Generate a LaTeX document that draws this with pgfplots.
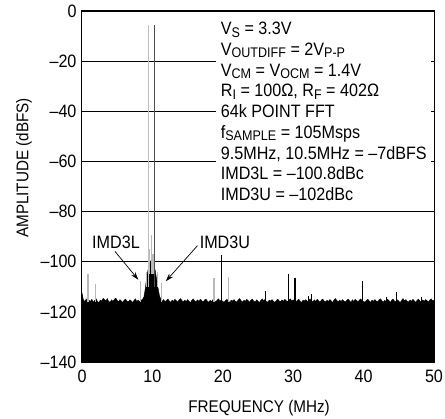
\documentclass[border=0pt]{standalone}
\usepackage{fontspec}
\setmainfont{Liberation Sans}[FakeStretch=0.9]
\usepackage{pgfplots}
\usepackage{pgfplotstable}
\pgfplotsset{compat=1.18}
\usetikzlibrary{arrows.meta}
\newcommand{\sub}[1]{\raisebox{-2.4bp}{\fontsize{14}{14}\selectfont #1}}
\pgfplotstableread{
x y
0.0 -145
0.0 -112.5
0.2 -115.2
0.4 -115.9
0.6 -114.9
0.8 -116.1
1.0 -115.4
1.2 -115.8
1.4 -115.0
1.6 -116.2
1.8 -115.5
2.0 -114.8
2.2 -115.9
2.4 -116.3
2.6 -115.3
2.8 -115.7
3.0 -114.6
3.2 -115.1
3.4 -115.6
3.6 -114.7
3.8 -115.9
4.0 -116.1
4.2 -115.2
4.4 -115.8
4.6 -115.0
4.8 -114.5
5.0 -115.4
5.2 -116.0
5.4 -115.1
5.6 -115.7
5.8 -116.2
6.0 -115.3
6.2 -114.9
6.4 -115.8
6.6 -116.0
6.8 -115.2
7.0 -115.6
7.2 -116.3
7.4 -115.4
7.6 -114.8
7.8 -115.9
8.0 -115.3
8.2 -116.0
8.4 -115.4
8.6 -115.0
8.8 -114.0
9.0 -110.5
9.2 -106.0
9.4 -103.0
9.6 -101.5
9.8 -99.5
10.0 -100.0
10.2 -101.5
10.4 -103.5
10.6 -107.0
10.8 -110.5
11.0 -113.5
11.2 -115.0
11.4 -115.8
11.6 -115.1
11.8 -116.0
12.0 -115.4
12.2 -114.9
12.4 -115.7
12.6 -116.2
12.8 -115.3
13.0 -115.8
13.2 -115.0
13.4 -115.6
13.6 -116.1
13.8 -115.2
14.0 -114.7
14.2 -115.5
14.4 -116.0
14.6 -115.3
14.8 -115.9
15.0 -115.1
15.2 -115.7
15.4 -116.3
15.6 -115.4
15.8 -114.8
16.0 -115.6
16.2 -116.0
16.4 -115.2
16.6 -115.8
16.8 -115.0
17.0 -115.5
17.2 -116.1
17.4 -115.3
17.6 -114.9
17.8 -115.7
18.0 -116.2
18.2 -115.4
18.4 -115.9
18.6 -115.1
18.8 -115.6
19.0 -116.0
19.2 -115.3
19.4 -114.8
19.6 -115.7
19.8 -115.2
20.0 -115.9
20.2 -116.1
20.4 -115.4
20.6 -115.0
20.8 -115.8
21.0 -116.2
21.2 -115.3
21.4 -115.7
21.6 -115.1
21.8 -115.9
22.0 -116.0
22.2 -115.2
22.4 -114.7
22.6 -115.6
22.8 -116.1
23.0 -115.4
23.2 -115.8
23.4 -115.0
23.6 -115.5
23.8 -116.2
24.0 -115.3
24.2 -114.9
24.4 -115.8
24.6 -116.0
24.8 -115.2
25.0 -115.7
25.2 -116.3
25.4 -115.4
25.6 -114.8
25.8 -115.6
26.0 -115.0
26.2 -115.9
26.4 -116.1
26.6 -115.3
26.8 -115.7
27.0 -115.1
27.2 -115.8
27.4 -116.2
27.6 -115.5
27.8 -114.9
28.0 -115.6
28.2 -116.0
28.4 -115.2
28.6 -115.8
28.8 -115.0
29.0 -115.5
29.2 -116.1
29.4 -115.3
29.6 -114.8
29.8 -115.7
30.0 -115.2
30.2 -115.9
30.4 -116.0
30.6 -115.4
30.8 -115.0
31.0 -115.8
31.2 -116.2
31.4 -115.3
31.6 -115.7
31.8 -115.1
32.0 -115.9
32.2 -115.4
32.4 -114.8
32.6 -115.6
32.8 -116.1
33.0 -115.2
33.2 -115.8
33.4 -115.0
33.6 -115.5
33.8 -116.2
34.0 -115.3
34.2 -114.9
34.4 -115.7
34.6 -116.0
34.8 -115.4
35.0 -115.8
35.2 -115.1
35.4 -115.6
35.6 -116.3
35.8 -115.2
36.0 -114.7
36.2 -115.5
36.4 -116.0
36.6 -115.3
36.8 -115.9
37.0 -115.1
37.2 -115.7
37.4 -116.1
37.6 -115.4
37.8 -114.9
38.0 -115.6
38.2 -116.2
38.4 -115.2
38.6 -115.8
38.8 -115.0
39.0 -115.5
39.2 -116.0
39.4 -115.3
39.6 -114.8
39.8 -115.7
40.0 -115.9
40.2 -116.1
40.4 -115.4
40.6 -115.0
40.8 -115.6
41.0 -116.2
41.2 -115.3
41.4 -115.8
41.6 -115.1
41.8 -115.7
42.0 -116.0
42.2 -115.2
42.4 -114.8
42.6 -115.6
42.8 -116.1
43.0 -115.4
43.2 -115.9
43.4 -115.0
43.6 -115.5
43.8 -116.2
44.0 -115.3
44.2 -114.9
44.4 -115.8
44.6 -116.0
44.8 -115.2
45.0 -115.7
45.2 -116.3
45.4 -115.4
45.6 -114.7
45.8 -115.6
46.0 -115.1
46.2 -115.9
46.4 -116.0
46.6 -115.3
46.8 -115.8
47.0 -115.0
47.2 -115.6
47.4 -116.2
47.6 -115.4
47.8 -114.9
48.0 -115.7
48.2 -116.0
48.4 -115.2
48.6 -115.8
48.8 -115.1
49.0 -115.5
49.2 -116.1
49.4 -115.3
49.6 -114.8
49.8 -115.6
50.0 -115.4
50.0 -145
}\noise
\begin{document}
\begin{tikzpicture}
\path[use as bounding box] (-82bp,-57bp) rectangle (363bp,362bp);
\begin{axis}[
  at={(0,0)}, anchor=south west,
  scale only axis, width=352bp, height=351bp,
  xmin=0, xmax=50, ymin=-140, ymax=0,
  xtick={0,10,20,30,40,50},
  xticklabels={0,10,20,30,40,50},
  ytick={-140,-120,-100,-80,-60,-40,-20,0},
  yticklabels={–140,–120,–100,–80,–60,–40,–20,0},
  /pgf/number format/assume math mode=true,
  tick style={draw=none},
  ymajorgrids, grid style={black, line width=0.7bp},
  axis line style={black, line width=1bp},
  ticklabel style={font=\fontsize{18}{18}\selectfont},
  xticklabel style={yshift=-4bp},
  yticklabel style={xshift=-2bp},
  xlabel={FREQUENCY (MHz)},
  ylabel={AMPLITUDE (dBFS)},
  label style={font=\fontsize{17}{17}\selectfont},
  xlabel style={at={(axis description cs:0.503,-0.13)}, anchor=center},
  ylabel style={at={(axis description cs:-0.165,0.553)}, anchor=center},
  unbounded coords=jump,
]
\addplot[fill=black, draw=black, line width=0.4bp] table[x=x,y=y] {\noise};
% gray spurs
\addplot[gray!55, line width=1.3bp] coordinates {
 (0.85,-116) (0.85,-105) (0.85,nan)
 (1.95,-116) (1.95,-109) (1.95,nan)
 (8.3,-116) (8.3,-107.5) (8.3,nan)
 (11.3,-116) (11.3,-108.5) (11.3,nan)
 (18.75,-116) (18.75,-106.5) (18.75,nan)
 (20.8,-116) (20.8,-106) (20.8,nan)
 (9.2,-110) (9.2,-104) (9.2,nan)
 (10.7,-110) (10.7,-104) (10.7,nan)
 (9.6,-105) (9.6,-95) (9.6,nan)
 (9.85,-105) (9.85,-89.5) (9.85,nan)
 (10.1,-105) (10.1,-97)
};
% dark spurs
\addplot[black, line width=1.3bp] coordinates {
 (19.8,-116) (19.8,-97.5) (19.8,nan)
 (26.1,-116) (26.1,-111.5) (26.1,nan)
 (29.3,-116) (29.3,-105) (29.3,nan)
 (30.25,-116) (30.25,-106.5) (30.25,nan)
 (32.2,-116) (32.2,-113.5) (32.2,nan)
 (32.6,-116) (32.6,-113) (32.6,nan)
 (39.8,-116) (39.8,-107.5) (39.8,nan)
 (43.3,-116) (43.3,-114) (43.3,nan)
 (44.7,-116) (44.7,-112) (44.7,nan)
 (48.2,-116) (48.2,-114)
};
% tones
\addplot[gray!50, line width=1.6bp] coordinates {(9.45,-110) (9.45,-5.5)};
\addplot[black!70, line width=1.5bp] coordinates {(10.3,-110) (10.3,-5.5)};
% annotation box
\fill[white] (axis cs:19.0,-0.6) rectangle (axis cs:49.6,-77.8);
\node[anchor=north west, inner sep=0pt, align=left,
      font=\fontsize{18}{20.8}\selectfont] at (axis cs:19.7,-4.4)
 {V\sub{S} = 3.3V\\
  V\sub{OUTDIFF} = 2V\sub{P-P}\\
  V\sub{CM} = V\sub{OCM} = 1.4V\\
  R\sub{I} = 100Ω, R\sub{F} = 402Ω\\
  64k POINT FFT\\
  f\sub{SAMPLE} = 105Msps\\
  9.5MHz, 10.5MHz = –7dBFS\\
  IMD3L = –100.8dBc\\
  IMD3U = –102dBc};
\node[font=\fontsize{18}{18}\selectfont] at (axis cs:4.83,-92.4) {IMD3L};
\node[font=\fontsize{18}{18}\selectfont] at (axis cs:20.3,-92.4) {IMD3U};
\draw[-{Stealth[length=8bp,width=5bp]}, line width=0.7bp] (axis cs:4.69,-95.9) -- (axis cs:8.0,-107.2);
\draw[-{Stealth[length=8bp,width=5bp]}, line width=0.7bp] (axis cs:16.4,-93.6) -- (axis cs:11.9,-107.8);
\end{axis}
\end{tikzpicture}
\end{document}
